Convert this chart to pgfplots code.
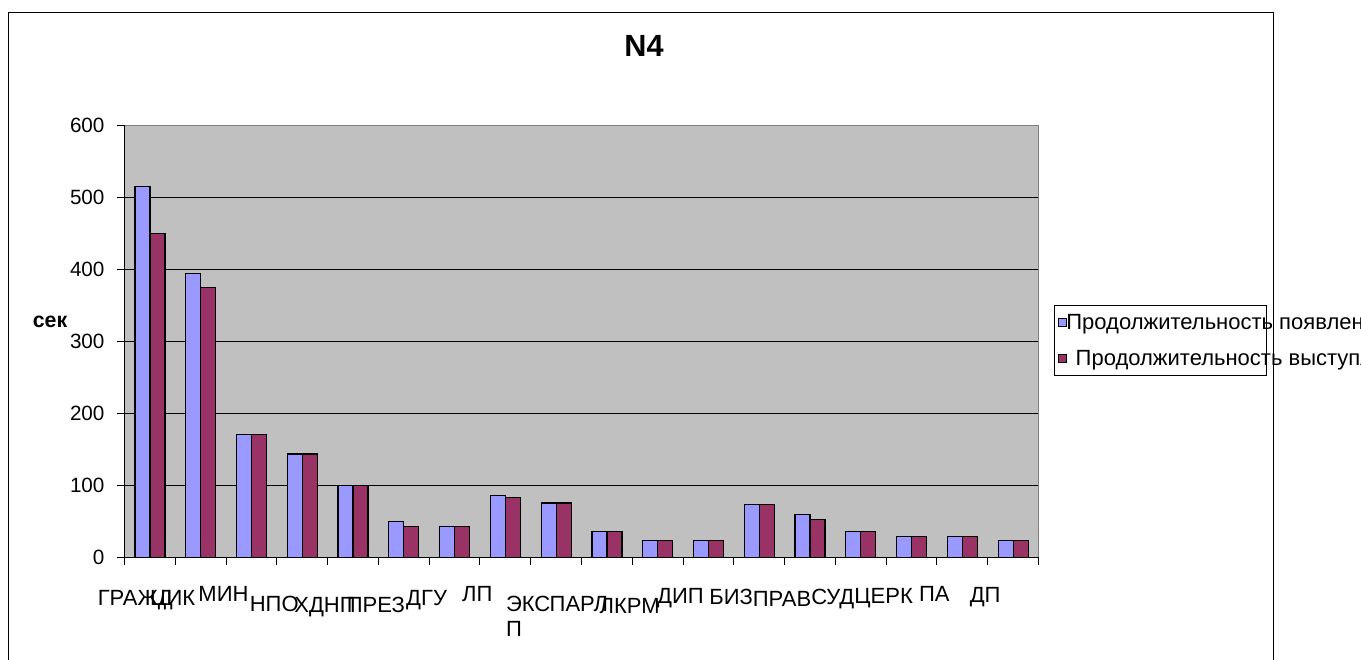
\documentclass[border=0pt]{standalone}
\usepackage{pgfplots}
\pgfplotsset{compat=1.18}
\usepackage{fontspec}
\setmainfont{Liberation Sans}
\definecolor{barblue}{HTML}{9999FF}
\definecolor{barmaroon}{HTML}{993366}
\definecolor{plotbg}{HTML}{C0C0C0}
\definecolor{plotborder}{HTML}{808080}
\pgfplotstableread{
idx a b
0 515 450
1 395 375
2 171 171
3 144 144
4 100 100
5 50 43
6 43 43
7 86 84
8 76 76
9 36 36
10 24 24
11 24 24
12 74 74
13 60 53
14 36 36
15 29 29
16 29 29
17 24 24
}\datatable
\begin{document}
\begin{tikzpicture}
\useasboundingbox (0,0) rectangle (1020.75pt,495pt);
\fill[white] (0,0) rectangle (1020.75pt,495pt);
\draw[black, line width=1.1pt] (6.2pt,-10pt) rectangle (955.1pt,485.8pt);
\begin{axis}[
  at={(93.4pt,76.7pt)}, anchor=south west,
  scale only axis, width=685.5pt, height=324.2pt,
  ybar=0pt, bar width=11.25pt,
  xmin=-0.5, xmax=17.5, ymin=0, ymax=600,
  ytick={0,100,...,600},
  xtick={-0.5,0.5,...,17.5}, xticklabels={},
  extra x ticks={0,1,...,17},
  extra x tick style={major tick length=0pt},
  extra x tick labels={{\hspace*{20pt}ГРАЖД},ЦИК,\raisebox{3pt}{МИН},\raisebox{-4.5pt}{НПО},\raisebox{-5.25pt}{ХДНП},\raisebox{-5.25pt}{ПРЕЗ},ДГУ,\raisebox{3pt}{ЛП},{\raisebox{-4.5pt}{\begin{tabular}[t]{@{}l@{}}ЭКС\\[0pt]П\end{tabular}}},\raisebox{-4.5pt}{ПАРЛ},\raisebox{-6pt}{ЛКРМ},\raisebox{1.5pt}{ДИП},\raisebox{0.75pt}{БИЗ},\raisebox{-0.75pt}{ПРАВ},\raisebox{0.75pt}{СУД},\raisebox{1.5pt}{ЦЕРК},\raisebox{3pt}{ПА},\raisebox{2.25pt}{ДП}},
  xticklabel style={anchor=base, xshift=-21pt, yshift=-35.5pt, font=\fontsize{16.5}{19}\selectfont},
  yticklabel style={font=\fontsize{15.5}{18}\selectfont, xshift=-6pt},
  /pgf/number format/assume math mode=true,
  tick align=outside, major tick length=5.5pt,
  xtick pos=bottom, ytick pos=left,
  tick style={black, line width=0.75pt},
  axis line style={plotborder, line width=0.75pt},
  axis background/.style={fill=plotbg},
  ymajorgrids, major grid style={black, line width=0.75pt},
  clip=false,
  title={N4},
  title style={at={(0.5683,1.1653)}, anchor=center, font=\bfseries\fontsize{23}{27}\selectfont},
  ylabel={сек},
  every axis y label/.style={at={(-0.0815,0.5453)}, anchor=center, font=\bfseries\fontsize{16}{19}\selectfont},
  legend image code/.code={\draw[#1, line width=0.6pt] (0pt,-2.7pt) rectangle (5.4pt,2.7pt);},
  legend cell align=left,
  legend style={at={(1.0169,0.5855)}, anchor=north west, draw=black, line width=0.6pt,
    inner xsep=3pt, inner ysep=6pt, row sep=13pt, column sep=0pt,
    font=\fontsize{16.5}{19}\selectfont,
    nodes={inner sep=0pt, anchor=west, text height=12pt, text depth=2pt}},
]
\addplot[fill=barblue, draw=black, line width=0.9pt] table[x=idx, y=a] {\datatable};
\addplot[fill=barmaroon, draw=black, line width=0.9pt] table[x=idx, y=b] {\datatable};
\legend{\makebox[147pt][l]{Продолжительность появления},\makebox[147pt][l]{\hspace{7pt}Продолжительность выступления}}
\draw[black, line width=0.75pt] (rel axis cs:0,0) -- (rel axis cs:0,1);
\draw[black, line width=0.75pt] (rel axis cs:0,0) -- (rel axis cs:1,0);
\end{axis}
\end{tikzpicture}
\end{document}
